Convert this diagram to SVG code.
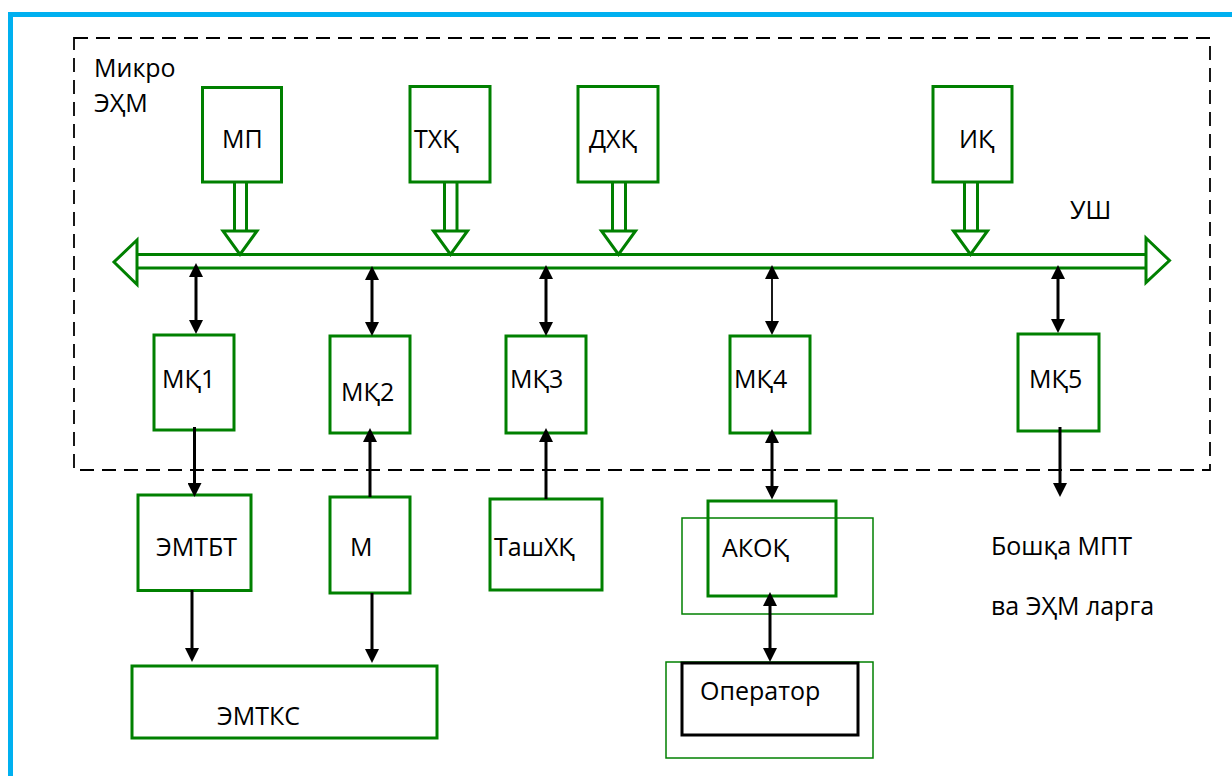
<svg xmlns="http://www.w3.org/2000/svg" width="1232" height="776" viewBox="0 0 1232 776">
  <style>
    .box { fill: #ffffff; stroke: #008000; stroke-width: 3; }
    .thin { fill: none; stroke: #008000; stroke-width: 1.5; }
    .lbl { font-family: "Open Sans", "Noto Sans", "DejaVu Sans", sans-serif; font-size: 25px; fill: #000000; }
    .bus { fill: none; stroke: #008000; stroke-width: 3; }
    .hollow { fill: #ffffff; stroke: #008000; stroke-width: 3; stroke-linejoin: miter; }
    .conn { fill: none; stroke: #000000; stroke-width: 3; }
    .conn-thin { fill: none; stroke: #000000; stroke-width: 1.8; }
    .end { marker-end: url(#ah); }
    .both { marker-start: url(#ah); marker-end: url(#ah); }
  </style>
  <defs>
    <marker id="ah" viewBox="0 0 14 14" refX="8" refY="7" markerWidth="14" markerHeight="14" markerUnits="userSpaceOnUse" orient="auto-start-reverse">
      <path d="M0,0 L14,7 L0,14 z" fill="#000000"/>
    </marker>
  </defs>

  <rect x="0" y="0" width="1232" height="776" fill="#ffffff"/>
  <rect id="frame" x="10.5" y="14.5" width="1400" height="900" fill="none" stroke="#00B0F0" stroke-width="5"/>

  <g id="microcomputer">
    <rect x="74" y="38" width="1136" height="432" fill="none" stroke="#000000" stroke-width="1.8" stroke-dasharray="14 8"/>
    <text class="lbl" x="94" y="77">Микро</text>
    <text class="lbl" x="94" y="112">ЭҲМ</text>
  </g>

  <g id="bus">
    <line class="bus" x1="136" y1="254.5" x2="1147" y2="254.5"/>
    <line class="bus" x1="136" y1="268" x2="1147" y2="268"/>
    <polygon class="hollow" points="137,240 114,262 137,284.5"/>
    <polygon class="hollow" points="1146,238 1169.5,260.5 1146,282.5"/>
    <text class="lbl" x="1070" y="219">УШ</text>
  </g>

  <g id="MP">
    <rect class="box" x="202.5" y="87.5" width="79" height="94.5"/>
    <text class="lbl" x="222" y="148">МП</text>
  </g>
  <g id="TXQ">
    <rect class="box" x="410" y="86.5" width="80" height="95.5"/>
    <text class="lbl" x="414" y="148">ТХҚ</text>
  </g>
  <g id="DXQ">
    <rect class="box" x="578" y="86.5" width="80" height="95.5"/>
    <text class="lbl" x="589" y="148">ДХҚ</text>
  </g>
  <g id="IQ">
    <rect class="box" x="933" y="86.5" width="79" height="95.5"/>
    <text class="lbl" x="959" y="148">ИҚ</text>
  </g>

  <g id="MQ1">
    <rect class="box" x="154" y="335" width="80" height="95"/>
    <text class="lbl" x="162" y="388">МҚ1</text>
  </g>
  <g id="MQ2">
    <rect class="box" x="330" y="336" width="80" height="97"/>
    <text class="lbl" x="341" y="401">МҚ2</text>
  </g>
  <g id="MQ3">
    <rect class="box" x="506" y="336" width="80" height="97"/>
    <text class="lbl" x="510" y="388">МҚ3</text>
  </g>
  <g id="MQ4">
    <rect class="box" x="730" y="336" width="80" height="97"/>
    <text class="lbl" x="734" y="388">МҚ4</text>
  </g>
  <g id="MQ5">
    <rect class="box" x="1018" y="334" width="81" height="97"/>
    <text class="lbl" x="1029" y="388">МҚ5</text>
  </g>

  <g id="EMTBT">
    <rect class="box" x="138" y="495" width="113" height="95.5"/>
    <text class="lbl" x="156" y="556">ЭМТБТ</text>
  </g>
  <g id="M">
    <rect class="box" x="330" y="497" width="80" height="96"/>
    <text class="lbl" x="350" y="556">М</text>
  </g>
  <g id="TashXQ">
    <rect class="box" x="490" y="499" width="112" height="91"/>
    <text class="lbl" x="494" y="556">ТашХҚ</text>
  </g>
  <g id="AKOQ">
    <rect class="thin" x="682" y="518" width="191" height="96"/>
    <rect class="box" x="708" y="501" width="128" height="95" style="fill:none"/>
    <text class="lbl" x="722" y="557">АКОҚ</text>
  </g>
  <g id="EMTKS">
    <rect class="box" x="132" y="666" width="305" height="72"/>
    <text class="lbl" x="217" y="725">ЭМТКС</text>
  </g>
  <g id="Operator">
    <rect class="thin" x="666" y="662" width="207" height="96"/>
    <rect x="682" y="663" width="176" height="72" fill="none" stroke="#000000" stroke-width="3"/>
    <text class="lbl" x="700" y="700">Оператор</text>
  </g>
  <g id="other">
    <text class="lbl" x="991" y="555">Бошқа МПТ</text>
    <text class="lbl" x="991" y="615">ва ЭҲМ ларга</text>
  </g>

  <g id="connectors">
    <line class="bus" x1="234.5" y1="182" x2="234.5" y2="231"/>
    <line class="bus" x1="246.5" y1="182" x2="246.5" y2="231"/>
    <polygon class="hollow" points="223,231 257,231 240,254.5"/>
    <line class="bus" x1="444.5" y1="182" x2="444.5" y2="231"/>
    <line class="bus" x1="457" y1="182" x2="457" y2="231"/>
    <polygon class="hollow" points="433.5,231 467.5,231 450.5,254.5"/>
    <line class="bus" x1="612.5" y1="182" x2="612.5" y2="231"/>
    <line class="bus" x1="625.5" y1="182" x2="625.5" y2="231"/>
    <polygon class="hollow" points="601.5,231 635.5,231 618.5,254.5"/>
    <line class="bus" x1="964.5" y1="182" x2="964.5" y2="231"/>
    <line class="bus" x1="977.5" y1="182" x2="977.5" y2="231"/>
    <polygon class="hollow" points="953.5,231 987.5,231 970.5,254.5"/>

    <line class="conn both" x1="196" y1="269" x2="196" y2="328"/>
    <line class="conn both" x1="372" y1="272" x2="372" y2="330"/>
    <line class="conn both" x1="546" y1="271" x2="546" y2="330"/>
    <line class="conn-thin both" x1="772" y1="271" x2="772" y2="329"/>
    <line class="conn both" x1="1058" y1="271" x2="1058" y2="327"/>

    <line class="conn end" x1="194.5" y1="427" x2="194.5" y2="491"/>
    <line class="conn end" x1="370" y1="497" x2="370" y2="434"/>
    <line class="conn end" x1="546" y1="499" x2="546" y2="434"/>
    <line class="conn both" x1="772" y1="435" x2="772" y2="493.5"/>
    <line class="conn end" x1="1060" y1="427" x2="1060" y2="491"/>
    <line class="conn end" x1="192" y1="590" x2="192" y2="656"/>
    <line class="conn end" x1="372" y1="593" x2="372" y2="657"/>
    <line class="conn both" x1="770" y1="598" x2="770" y2="656"/>
  </g>
</svg>
